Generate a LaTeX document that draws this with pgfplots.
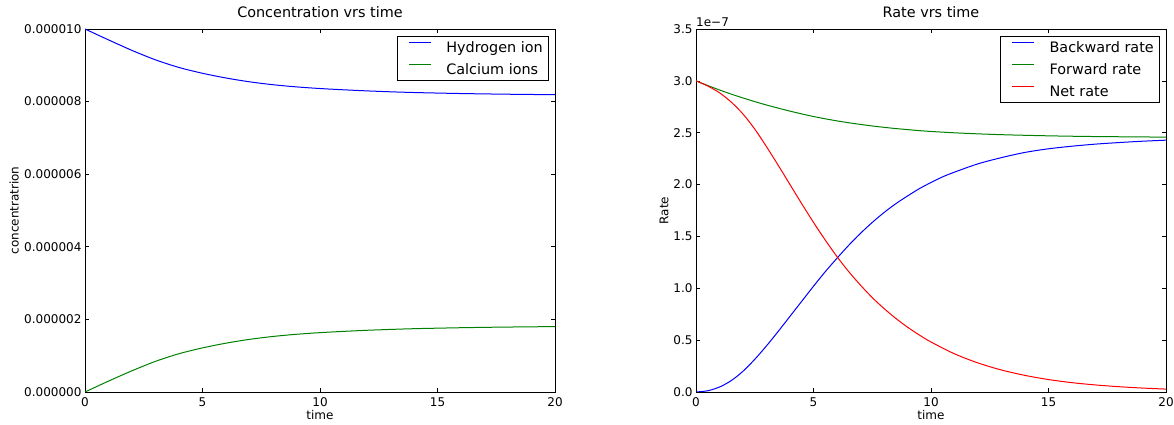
\documentclass[border=0pt]{standalone}
\usepackage{fontspec}
\setmainfont{DejaVu Sans}
\usepackage{pgfplots}
\pgfplotsset{compat=1.18}

\definecolor{mplblue}{rgb}{0,0,1}
\definecolor{mplgreen}{rgb}{0,0.5,0}
\definecolor{mplred}{rgb}{1,0,0}

\pgfplotsset{
  mplpanel/.style={
    scale only axis, width=470pt, height=363pt, anchor=south west,
    xmin=0, xmax=20, xtick={0,5,10,15,20}, xticklabels={0,5,10,15,20},
    tick align=inside, major tick length=4pt,
    major tick style={black, line width=0.6pt},
    axis line style={black, line width=0.9pt},
    tick label style={font=\fontsize{12}{14}\selectfont},
    xticklabel style={yshift=-2.5pt},
    label style={font=\fontsize{12}{14}\selectfont},
    xlabel style={at={(axis description cs:0.5,0)}, anchor=base, yshift=-28pt},
    title style={at={(axis description cs:0.5,1)}, anchor=base, yshift=5pt,
      font=\fontsize{14.4}{17}\selectfont},
    scaled y ticks=false,
    legend cell align=left,
    legend style={at={(axis description cs:1,1)}, anchor=north east,
      xshift=-7pt, yshift=-7pt, draw=black,
      inner xsep=3pt, inner ysep=4pt, row sep=7.2pt,
      font=\fontsize{14.4}{17}\selectfont,
      nodes={inner xsep=2pt, inner ysep=2pt, text height=10.5pt, text depth=0pt}},
    legend image code/.code={
      \draw[#1] plot coordinates {(8pt,4.5pt) (19pt,4.5pt) (30pt,4.5pt)};
      \path (0pt,0pt);
      \path (43pt,0pt);},
  }
}

\begin{document}
\begin{tikzpicture}
\path[use as bounding box] (0,0) rectangle (1174pt,425pt);

% ---- concentrations ----
\begin{axis}[mplpanel, at={(85pt,33pt)},
  ymin=0, ymax=1e-5,
  ytick={0,2e-6,4e-6,6e-6,8e-6,1e-5},
  yticklabels={0.000000,0.000002,0.000004,0.000006,0.000008,0.000010},
  title={Concentration vrs time},
  xlabel={time},
  ylabel={concentratrion},
  ylabel style={at={(axis description cs:-0.151,0.5)}, anchor=center},
]
\addplot[mplblue, line width=1pt, smooth] coordinates {
 (0,10.00e-6) (1,9.70e-6) (2,9.41e-6) (3,9.15e-6) (4,8.94e-6) (5,8.78e-6)
 (6,8.65e-6) (7,8.545e-6) (8,8.465e-6) (9,8.405e-6) (10,8.36e-6)
 (11,8.325e-6) (12,8.295e-6) (13,8.27e-6) (14,8.25e-6) (15,8.235e-6)
 (16,8.222e-6) (17,8.212e-6) (18,8.203e-6) (19,8.196e-6) (20,8.19e-6)};
\addlegendentry{Hydrogen ion}
\addplot[mplgreen, line width=1pt, smooth] coordinates {
 (0,0) (1,0.30e-6) (2,0.585e-6) (3,0.845e-6) (4,1.055e-6) (5,1.215e-6)
 (6,1.345e-6) (7,1.45e-6) (8,1.53e-6) (9,1.59e-6) (10,1.635e-6)
 (11,1.67e-6) (12,1.70e-6) (13,1.724e-6) (14,1.744e-6) (15,1.758e-6)
 (16,1.771e-6) (17,1.781e-6) (18,1.789e-6) (19,1.796e-6) (20,1.801e-6)};
\addlegendentry{Calcium ions}
\end{axis}

% ---- rates ----
\begin{axis}[mplpanel, at={(696pt,33pt)},
  ymin=0, ymax=3.5e-7,
  ytick={0,0.5e-7,1e-7,1.5e-7,2e-7,2.5e-7,3e-7,3.5e-7},
  yticklabels={0.0,0.5,1.0,1.5,2.0,2.5,3.0,3.5},
  title={Rate vrs time},
  xlabel={time},
  ylabel={Rate},
  ylabel style={at={(axis description cs:-0.068,0.5)}, anchor=center},
  after end axis/.code={
    \node[anchor=base west, inner sep=0pt, font=\fontsize{12}{14}\selectfont,
          yshift=2.6pt] at (axis description cs:0,1) {1e−7};},
]
\addplot[mplblue, line width=1pt, smooth] coordinates {
 (0,0) (0.5,0.012e-7) (1,0.048e-7) (1.5,0.11e-7) (2,0.20e-7) (2.5,0.315e-7)
 (3,0.445e-7) (3.5,0.585e-7) (4,0.73e-7) (4.5,0.875e-7) (5,1.02e-7)
 (5.5,1.16e-7) (6,1.29e-7) (6.5,1.415e-7) (7,1.53e-7) (7.5,1.635e-7)
 (8,1.73e-7) (8.5,1.815e-7) (9,1.89e-7) (9.5,1.96e-7) (10,2.02e-7)
 (10.5,2.075e-7) (11,2.12e-7) (12,2.20e-7) (13,2.26e-7) (14,2.31e-7)
 (15,2.345e-7) (16,2.37e-7) (17,2.39e-7) (18,2.405e-7) (19,2.418e-7)
 (20,2.428e-7)};
\addlegendentry{Backward rate}
\addplot[mplgreen, line width=1pt, smooth] coordinates {
 (0,3.000e-7) (0.5,2.955e-7) (1,2.912e-7) (1.5,2.872e-7) (2,2.835e-7)
 (2.5,2.80e-7) (3,2.767e-7) (3.5,2.737e-7) (4,2.708e-7) (4.5,2.681e-7)
 (5,2.656e-7) (5.5,2.634e-7) (6,2.614e-7) (6.5,2.596e-7) (7,2.58e-7)
 (7.5,2.565e-7) (8,2.552e-7) (8.5,2.54e-7) (9,2.53e-7) (9.5,2.52e-7)
 (10,2.512e-7) (11,2.499e-7) (12,2.489e-7) (13,2.481e-7) (14,2.475e-7)
 (15,2.47e-7) (16,2.466e-7) (17,2.463e-7) (18,2.461e-7) (19,2.459e-7)
 (20,2.458e-7)};
\addlegendentry{Forward rate}
\addplot[mplred, line width=1pt, smooth] coordinates {
 (0,3.000e-7) (0.5,2.950e-7) (1,2.885e-7) (1.5,2.795e-7) (2,2.680e-7)
 (2.5,2.535e-7) (3,2.365e-7) (3.5,2.185e-7) (4,2.000e-7) (4.5,1.815e-7)
 (5,1.635e-7) (5.5,1.465e-7) (6,1.305e-7) (6.5,1.160e-7) (7,1.030e-7)
 (7.5,0.910e-7) (8,0.805e-7) (8.5,0.710e-7) (9,0.625e-7) (9.5,0.550e-7)
 (10,0.482e-7) (11,0.368e-7) (12,0.280e-7) (13,0.212e-7) (14,0.160e-7)
 (15,0.120e-7) (16,0.090e-7) (17,0.068e-7) (18,0.051e-7) (19,0.038e-7)
 (20,0.028e-7)};
\addlegendentry{Net rate}
\end{axis}
\end{tikzpicture}
\end{document}
